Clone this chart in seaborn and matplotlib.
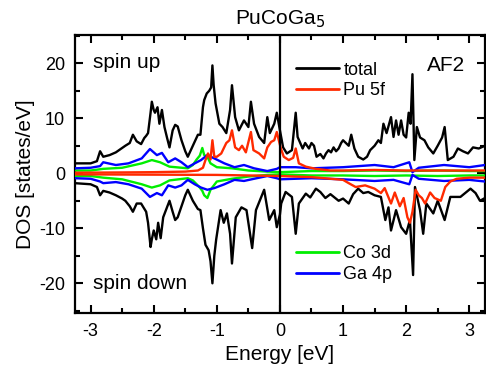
import numpy as np
import pandas as pd
import matplotlib
matplotlib.use("Agg")
import matplotlib.pyplot as plt
from matplotlib.ticker import MultipleLocator
from matplotlib.lines import Line2D
import seaborn as sns

# ---- data (energies in eV, DOS in states/eV) ----
# total DOS, spin up
e_total_up = [-3.25, -3.0, -2.9, -2.85, -2.8, -2.7, -2.6, -2.5, -2.45, -2.38, -2.33, -2.27,
              -2.2, -2.15, -2.12, -2.09, -2.05, -2.03, -2.0, -1.98, -1.94, -1.91, -1.87, -1.83,
              -1.79, -1.75, -1.70, -1.66, -1.62, -1.56, -1.50, -1.46, -1.38, -1.30, -1.26, -1.22,
              -1.20, -1.16, -1.12, -1.09, -1.07, -1.05, -1.02, -0.96, -0.91, -0.85, -0.79, -0.76,
              -0.71, -0.65, -0.57, -0.50, -0.46, -0.41, -0.33, -0.25, -0.20, -0.16, -0.09, -0.05,
              0.0, 0.05, 0.11, 0.19, 0.25, 0.28, 0.36, 0.40, 0.46, 0.50, 0.54, 0.58,
              0.64, 0.69, 0.73, 0.77, 0.81, 0.85, 0.89, 0.93, 0.97, 1.0, 1.09, 1.13,
              1.18, 1.24, 1.32, 1.38, 1.43, 1.50, 1.56, 1.60, 1.64, 1.69, 1.76, 1.80,
              1.84, 1.88, 1.92, 1.96, 2.0, 2.04, 2.07, 2.10, 2.13, 2.17, 2.22, 2.29,
              2.35, 2.43, 2.50, 2.57, 2.61, 2.66, 2.75, 2.82, 2.90, 2.98, 3.06, 3.15, 3.25]
total_up = [1.8, 1.8, 2.2, 4.0, 3.0, 3.3, 3.8, 4.6, 5.0, 5.5, 7.0, 5.8,
            5.3, 6.4, 6.8, 7.3, 11.0, 13.0, 11.5, 11.0, 12.0, 9.0, 11.5, 8.4,
            6.5, 4.7, 7.8, 8.8, 8.5, 6.0, 4.0, 3.0, 5.0, 7.0, 7.0, 12.0,
            13.3, 14.5, 15.0, 15.6, 19.6, 16.0, 12.7, 9.0, 8.4, 7.3, 11.5, 16.0,
            10.2, 7.8, 9.6, 8.4, 13.0, 9.0, 6.6, 5.5, 10.2, 7.3, 9.0, 11.0,
            7.8, 4.7, 3.6, 4.2, 11.0, 6.6, 4.5, 5.5, 4.5, 5.5, 5.0, 3.0,
            3.5, 2.7, 3.6, 4.2, 3.8, 4.7, 4.0, 4.5, 5.5, 6.0, 5.0, 7.0,
            4.5, 3.0, 2.5, 3.0, 4.2, 5.0, 6.0, 5.5, 9.0, 7.3, 10.2, 6.6,
            9.6, 7.0, 9.6, 7.0, 6.5, 11.0, 9.0, 18.0, 2.4, 8.4, 6.5, 6.0,
            4.7, 3.6, 5.0, 6.5, 8.4, 2.4, 3.0, 4.5, 4.0, 3.6, 4.7, 4.5, 5.0]

# total DOS, spin down (magnitudes, drawn negative)
e_total_dn = [-3.25, -3.0, -2.9, -2.85, -2.8, -2.7, -2.6, -2.5, -2.45, -2.38, -2.33, -2.27,
              -2.2, -2.12, -2.09, -2.05, -2.03, -2.0, -1.96, -1.93, -1.89, -1.85, -1.80, -1.75,
              -1.70, -1.66, -1.62, -1.56, -1.50, -1.46, -1.38, -1.30, -1.26, -1.22, -1.18, -1.13,
              -1.10, -1.07, -1.04, -1.01, -0.94, -0.89, -0.84, -0.79, -0.76, -0.70, -0.61, -0.53,
              -0.44, -0.38, -0.25, -0.17, -0.09, -0.05, 0.0, 0.02, 0.09, 0.19, 0.25, 0.30,
              0.41, 0.48, 0.57, 0.64, 0.72, 0.80, 0.93, 1.0, 1.09, 1.16, 1.24, 1.32,
              1.40, 1.50, 1.60, 1.67, 1.72, 1.76, 1.84, 1.92, 2.0, 2.06, 2.11, 2.14,
              2.22, 2.27, 2.32, 2.43, 2.50, 2.61, 2.70, 2.86, 3.02, 3.10, 3.17, 3.25]
total_dn = [1.8, 2.0, 2.5, 4.0, 3.2, 3.5, 4.0, 4.6, 5.0, 6.0, 7.0, 5.5,
            5.5, 7.0, 9.0, 13.4, 12.0, 10.4, 12.0, 9.0, 11.8, 8.0, 6.5, 5.0,
            7.0, 8.5, 8.0, 6.0, 4.0, 3.0, 5.0, 6.5, 6.7, 10.0, 13.0, 14.0,
            16.0, 20.0, 15.0, 12.0, 6.7, 9.0, 7.3, 11.0, 16.4, 8.0, 6.2, 6.7,
            13.6, 6.7, 3.0, 8.5, 6.7, 9.8, 7.5, 5.5, 3.4, 4.3, 11.0, 5.5,
            3.7, 4.4, 2.8, 3.4, 4.5, 3.8, 5.0, 4.6, 5.5, 3.8, 2.8, 3.6,
            3.4, 4.0, 4.3, 8.5, 6.2, 10.4, 6.7, 9.8, 11.0, 8.5, 18.5, 2.5,
            6.7, 11.0, 5.5, 7.3, 5.0, 8.5, 4.3, 4.3, 2.8, 3.6, 5.0, 4.5]

# Pu 5f
e_pu_up = [-3.25, -2.5, -2.0, -1.5, -1.3, -1.22, -1.18, -1.14, -1.10, -1.07, -1.04, -1.00,
           -0.93, -0.85, -0.80, -0.76, -0.71, -0.65, -0.60, -0.54, -0.46, -0.42, -0.33, -0.25,
           -0.20, -0.14, -0.09, -0.05, 0.01, 0.06, 0.14, 0.21, 0.25, 0.30, 0.41, 0.57,
           0.8, 1.0, 1.5, 2.0, 2.5, 3.0, 3.25]
pu_up = [0.1, 0.15, 0.2, 0.3, 0.5, 1.0, 2.4, 3.6, 2.5, 6.0, 3.0, 3.0,
         3.6, 5.5, 6.0, 7.8, 4.7, 4.2, 5.0, 3.8, 7.5, 4.2, 3.6, 2.7,
         4.7, 5.7, 6.0, 7.5, 4.7, 3.0, 2.4, 2.8, 4.5, 1.8, 1.2, 0.8,
         0.5, 0.5, 0.6, 0.5, 0.5, 0.5, 0.5]
e_pu_dn = [-3.25, -1.0, 0.0, 0.5, 1.0, 1.09, 1.2, 1.35, 1.5, 1.6, 1.66, 1.76,
           1.82, 1.9, 1.96, 2.02, 2.06, 2.1, 2.15, 2.2, 2.25, 2.3, 2.38, 2.45,
           2.55, 2.62, 2.7, 2.8, 3.0, 3.25]
pu_dn = [0.2, 0.3, 0.5, 0.7, 1.2, 1.8, 2.5, 2.2, 2.8, 3.6, 2.7, 5.5,
         3.5, 6.0, 4.5, 8.0, 9.0, 7.0, 3.0, 4.0, 4.5, 5.5, 3.5, 4.5,
         5.0, 2.5, 1.5, 1.0, 0.8, 0.8]

# Co 3d
e_co = [-3.25, -3.0, -2.8, -2.5, -2.19, -2.03, -1.9, -1.75, -1.46, -1.38, -1.32, -1.27,
        -1.23, -1.20, -1.15, -1.10, -1.0, -0.76, -0.5, -0.2, 0.0, 0.5, 1.0, 1.5,
        2.0, 2.5, 3.0, 3.25]
co_up = [0.5, 0.5, 0.8, 1.0, 1.8, 2.4, 2.0, 1.2, 0.9, 1.5, 2.5, 3.2,
         4.6, 3.3, 3.0, 1.8, 1.1, 0.9, 0.5, 0.3, 0.2, 0.4, 0.4, 0.5,
         0.4, 0.5, 0.4, 0.4]
co_dn = [0.5, 0.5, 0.8, 1.1, 2.0, 2.6, 2.2, 1.3, 0.9, 1.3, 2.0, 2.6,
         3.2, 4.0, 4.5, 3.0, 1.5, 1.0, 0.6, 0.3, 0.2, 0.4, 0.4, 0.5,
         0.4, 0.5, 0.4, 0.4]

# Ga 4p
e_ga = [-3.25, -3.0, -2.85, -2.8, -2.6, -2.4, -2.19, -2.06, -1.95, -1.87, -1.77, -1.66,
        -1.56, -1.46, -1.35, -1.25, -1.15, -1.04, -0.88, -0.72, -0.57, -0.41, -0.2, -0.05,
        0.0, 0.25, 0.5, 1.0, 1.5, 1.8, 2.05, 2.1, 2.2, 2.6, 3.0, 3.25]
ga_up = [0.9, 1.0, 1.3, 2.0, 1.5, 1.8, 2.7, 4.4, 3.3, 3.7, 2.0, 2.7,
         2.0, 1.1, 1.8, 2.4, 3.3, 2.7, 1.8, 1.1, 1.5, 0.9, 0.4, 0.8,
         1.1, 1.1, 0.9, 1.1, 1.5, 1.1, 2.0, 0.2, 1.0, 1.5, 1.1, 1.5]
ga_dn = [0.9, 1.0, 1.5, 1.8, 1.6, 2.0, 2.8, 4.3, 3.6, 4.0, 2.2, 2.6,
         2.2, 1.2, 2.0, 2.6, 3.0, 2.7, 2.0, 1.2, 1.4, 1.0, 0.5, 0.9,
         1.1, 1.0, 0.9, 1.1, 1.4, 1.2, 2.0, 0.3, 1.0, 1.4, 1.2, 1.5]

labels = ["total", "Pu 5f", "Co 3d", "Ga 4p"]
colors = ["black", "#ff2a00", "#00ee00", "#0000ff"]

# ---- plot ----
sns.set_style("ticks")
plt.rcParams["font.family"] = ["Liberation Sans", "DejaVu Sans"]
plt.rcParams["axes.unicode_minus"] = False
for key in ["text.color", "axes.labelcolor", "xtick.color", "ytick.color", "axes.edgecolor"]:
    plt.rcParams[key] = "black"

fig, ax = plt.subplots(figsize=(4.86, 3.70), dpi=100)
fig.subplots_adjust(left=0.154, right=0.998, bottom=0.154, top=0.905)

curves = [
    (e_total_up, total_up, e_total_dn, total_dn, colors[0], 2),
    (e_co, co_up, e_co, co_dn, colors[2], 3),
    (e_ga, ga_up, e_ga, ga_dn, colors[3], 4),
    (e_pu_up, pu_up, e_pu_dn, pu_dn, colors[1], 5),
]
for eu, up, ed, dn, c, z in curves:
    sns.lineplot(x=eu, y=up, color=c, lw=1.7, ax=ax, zorder=z)
    sns.lineplot(x=ed, y=-np.array(dn), color=c, lw=1.7, ax=ax, zorder=z)

ax.axvline(0, color="black", lw=1.6, zorder=6)

ax.set_xlim(-3.25, 3.25)
ax.set_ylim(-25.4, 25.1)
ax.xaxis.set_major_locator(MultipleLocator(1))
ax.xaxis.set_minor_locator(MultipleLocator(0.5))
ax.yaxis.set_major_locator(MultipleLocator(10))
ax.yaxis.set_minor_locator(MultipleLocator(5))
ax.tick_params(which="both", direction="in", top=True, right=True, width=1.5,
               labelsize=13, pad=7)
ax.tick_params(which="major", length=6)
ax.tick_params(which="minor", length=3.5)
for s in ax.spines.values():
    s.set_linewidth(1.6)

ax.set_xlabel("Energy [eV]", fontsize=15, labelpad=4)
ax.set_ylabel("DOS [states/eV]", fontsize=15, labelpad=3)
ax.set_title("PuCoGa$_5$", fontsize=15, pad=8)

ax.text(0.044, 0.90, "spin up", transform=ax.transAxes, fontsize=15, va="center")
ax.text(0.044, 0.108, "spin down", transform=ax.transAxes, fontsize=15, va="center")
ax.text(0.952, 0.89, "AF2", transform=ax.transAxes, fontsize=15, va="center", ha="right")

h = [Line2D([], [], color=c, lw=2) for c in colors]
leg1 = ax.legend(h[:2], labels[:2], loc="center left", bbox_to_anchor=(0.538, 0.837),
                 frameon=False, fontsize=13, handlelength=2.4, handletextpad=0.25,
                 labelspacing=0.2, borderpad=0, borderaxespad=0)
ax.add_artist(leg1)
ax.legend(h[2:], labels[2:], loc="center left", bbox_to_anchor=(0.538, 0.176),
          frameon=False, fontsize=13, handlelength=2.4, handletextpad=0.25,
          labelspacing=0.2, borderpad=0, borderaxespad=0)

plt.savefig("out.png", dpi=100)
